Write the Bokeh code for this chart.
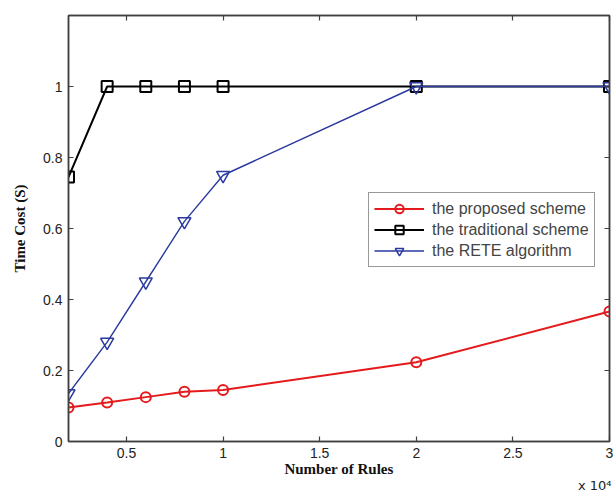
from bokeh.plotting import figure
from bokeh.models import FixedTicker, LinearAxis, Title, Range1d, Legend, LegendItem
from bokeh.embed import file_html
from bokeh.resources import INLINE

rules = [2000, 4000, 6000, 8000, 10000, 20000, 30000]
proposed = [0.096, 0.11, 0.125, 0.14, 0.145, 0.223, 0.366]
traditional = [0.745, 1.0, 1.0, 1.0, 1.0, 1.0, 1.0]
rete = [0.135, 0.28, 0.45, 0.62, 0.75, 1.0, 1.0]

x_ticks = [5000, 10000, 15000, 20000, 25000, 30000]
x_tick_labels = ["0.5", "1", "1.5", "2", "2.5", "3"]
y_ticks = [0, 0.2, 0.4, 0.6, 0.8, 1.0]
y_tick_labels = ["0", "0.2", "0.4", "0.6", "0.8", "1"]

RED = "#e41a1c"
BLACK = "#000000"
BLUE = "#2a3a9e"
AXIS = "#404040"

W, H = 613, 491
p = figure(width=W, height=H, output_backend="svg", toolbar_location=None,
           x_range=Range1d(2000, 30000), y_range=Range1d(0, 1.2),
           min_border_left=68, min_border_right=4, min_border_top=15, min_border_bottom=50)
p.xgrid.visible = False
p.ygrid.visible = False
p.outline_line_color = AXIS
p.outline_line_width = 1.5
p.background_fill_color = "white"

def style_axis(ax):
    ax.axis_line_color = AXIS
    ax.axis_line_width = 1.5
    ax.major_tick_line_color = AXIS
    ax.major_tick_line_width = 1.2
    ax.major_tick_in = 5
    ax.major_tick_out = 0
    ax.minor_tick_line_color = None
    ax.major_label_text_font = "Liberation Sans"
    ax.major_label_text_font_size = "14px"
    ax.major_label_text_color = "#222222"
    ax.axis_label_text_font = "Liberation Serif"
    ax.axis_label_text_font_style = "bold"
    ax.axis_label_text_font_size = "15px"
    ax.axis_label_text_color = "#111111"

xa = p.xaxis[0]
style_axis(xa)
xa.ticker = FixedTicker(ticks=x_ticks)
xa.major_label_overrides = dict(zip(x_ticks, x_tick_labels))
xa.axis_label = "Number of Rules"
xa.axis_label_standoff = 0
xa.major_label_standoff = 6

ya = p.yaxis[0]
style_axis(ya)
ya.ticker = FixedTicker(ticks=y_ticks)
ya.major_label_overrides = dict(zip(y_ticks, y_tick_labels))
ya.axis_label = "Time Cost (S)"
ya.axis_label_standoff = 12
ya.major_label_standoff = 6

def mirror_axis(ticks):
    ax = LinearAxis(ticker=FixedTicker(ticks=[], minor_ticks=ticks))
    ax.axis_line_color = AXIS
    ax.axis_line_width = 1.5
    ax.major_tick_line_color = None
    ax.minor_tick_line_color = AXIS
    ax.minor_tick_line_width = 1.2
    ax.minor_tick_in = 5
    ax.minor_tick_out = 0
    ax.major_label_standoff = 0
    ax.axis_label = None
    return ax

p.add_layout(mirror_axis(x_ticks), "above")
p.add_layout(mirror_axis(y_ticks), "right")

l1 = p.line(rules, proposed, line_color=RED, line_width=2)
m1 = p.scatter(rules, proposed, marker="circle", size=10, fill_color=None, line_color=RED, line_width=2)
l2 = p.line(rules, traditional, line_color=BLACK, line_width=2)
m2 = p.scatter(rules, traditional, marker="square", size=11, fill_color=None, line_color=BLACK, line_width=2)
l3 = p.line(rules, rete, line_color=BLUE, line_width=1.4)
m3 = p.scatter(rules, rete, marker="inverted_triangle", size=13, fill_color=None, line_color=BLUE, line_width=1.5)

legend = Legend(items=[
    LegendItem(label="the proposed scheme", renderers=[l1, m1]),
    LegendItem(label="the traditional scheme", renderers=[l2, m2]),
    LegendItem(label="the RETE algorithm", renderers=[l3, m3]),
], location=(300, 174))
legend.label_text_font = "Liberation Sans"
legend.label_text_font_size = "16px"
legend.label_height = 21
legend.glyph_height = 21
legend.glyph_width = 50
legend.spacing = 0
legend.padding = 5
legend.margin = 0
legend.border_line_color = "#333333"
legend.border_line_width = 1
legend.label_standoff = 8
p.add_layout(legend, "center")

scale_note = Title(text="x 10\u2074", align="right", text_font="DejaVu Sans",
                   text_font_size="13px", text_font_style="normal",
                   text_color="#222222", standoff=-8, offset=-2)
p.add_layout(scale_note, "below")

open("out.html", "w").write(file_html(p, INLINE))
